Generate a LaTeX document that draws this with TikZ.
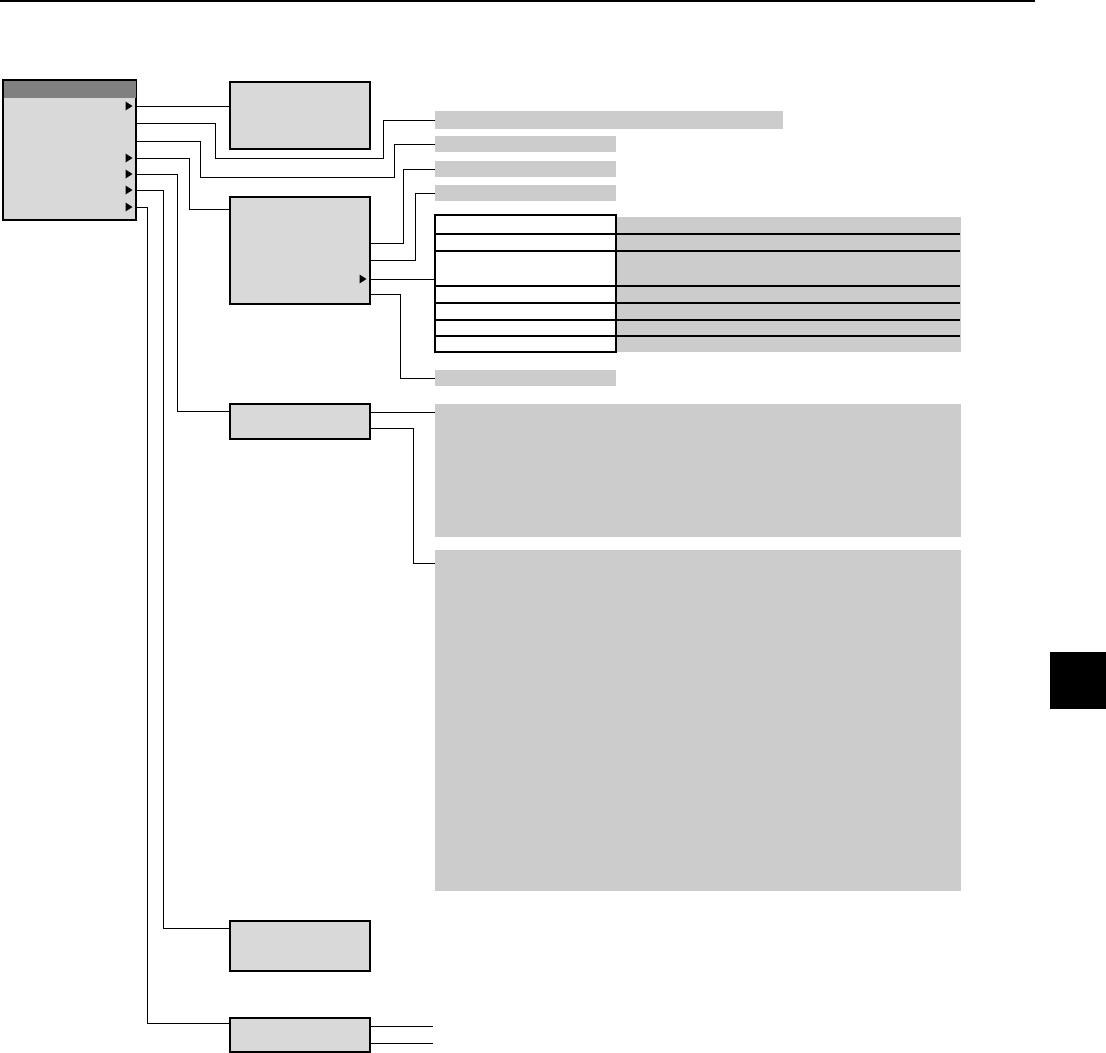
\documentclass[tikz,border=0pt]{standalone}
\usetikzlibrary{positioning,fit,calc}
\definecolor{cBox}{HTML}{D9D9D9}
\definecolor{cBar}{HTML}{CCCCCC}
\definecolor{cHead}{HTML}{808080}
\tikzset{
  wire/.style={line width=0.7pt,draw=black},
  menubox/.style={draw=black,fill=cBox,line width=0.9pt,inner sep=0pt},
  headbar/.style={fill=cHead,inner sep=0pt},
  subbox/.style={draw=black,fill=cBox,line width=0.9pt,inner sep=0pt},
  bar/.style={fill=cBar,inner sep=0pt},
  cell/.style={draw=black,fill=white,line width=0.9pt,inner sep=0pt},
  rowline/.style={line width=0.9pt,draw=black},
  tab/.style={fill=black,inner sep=0pt}
}
\newcommand\portmark[1]{\fill (#1) ++(-10.5,-4.5) -- ++(7,4.5) -- ++(-7,4.5) -- cycle;}

\begin{document}
\begin{tikzpicture}[x=0.025cm,y=-0.025cm]
  \useasboundingbox (0,0) rectangle (1106,1053);
  \draw[line width=1.4pt] (0,1) -- (1035,1);

  % Left: the menu and its outputs.
  \node[menubox,fit={(3,80)(136,220)}] (menu) {};
  \node[headbar,fit={(3.5,80.5)(135.5,98)}] (head) {};
  \coordinate (p1) at (136,106);
  \coordinate (p2) at (136,123);
  \coordinate (p3) at (136,141);
  \coordinate (p4) at (136,158);
  \coordinate (p5) at (136,174);
  \coordinate (p6) at (136,190);
  \coordinate (p7) at (136,207);
  \foreach \p in {p1,p4,p5,p6,p7} {\portmark{\p}}

  % Middle column.
  \node[subbox,fit={(230,82)(370,149)}] (boxA) {};
  \node[subbox,fit={(230,197)(370,304)}] (boxB) {};
  \node[subbox,fit={(230,404)(370,439)}] (boxC) {};
  \node[subbox,fit={(230,921)(370,971)}] (boxD) {};
  \node[subbox,fit={(230,1018)(370,1052)}] (boxE) {};

  % Right column.
  \node[bar,fit={(435,111)(783,129)}] (bar1) {};
  \node[bar,fit={(435,136)(616,152)}] (bar2) {};
  \node[bar,fit={(435,161)(616,177)}] (bar3) {};
  \node[bar,fit={(435,185)(616,201)}] (bar4) {};
  \node[bar,fit={(616,217)(961,352)}] (panel) {};
  \node[cell,fit={(435,215)(616,352)}] (table) {};
  \foreach \y in {234,251,286,303,320,336}
    \draw[rowline] (table.west |- 0,\y) -- (960,\y);
  \node[bar,fit={(435,370)(616,386)}] (bar5) {};
  \node[bar,fit={(435,404)(961,537)}] (big1) {};
  \node[bar,fit={(435,550)(961,891)}] (big2) {};

  % Menu to boxes and bars.
  \draw[wire] (p1) -- (p1 -| boxA.west);
  \draw[wire] (p2) -- ++(79,0) |- (383,158) |- (bar1.west);
  \draw[wire] (p3) -- ++(64,0) |- (394,177) |- (bar2.west);
  \draw[wire] (p4) -- ++(53,0) |- ($(boxB.north west)+(0,13)$);
  \draw[wire] (p5) -- ++(41,0) |- ($(boxC.north west)+(0,8)$);
  \draw[wire] (p6) -- ++(27,0) |- ($(boxD.north west)+(0,8)$);
  \draw[wire] (p7) -- ++(11,0) |- ($(boxE.north west)+(0,6)$);

  % Box B outputs.
  \coordinate (b1) at (370,243);
  \coordinate (b2) at (370,260);
  \coordinate (b3) at (370,279);
  \coordinate (b4) at (370,294);
  \portmark{b3}
  \draw[wire] (b1) -- ++(33,0) |- (bar3.west);
  \draw[wire] (b2) -- ++(45,0) |- (bar4.west);
  \draw[wire] (b3) -- (b3 -| table.west);
  \draw[wire] (b4) -- ++(30,0) |- (bar5.west);

  % Box C outputs.
  \coordinate (c1) at (370,412);
  \coordinate (c2) at (370,428);
  \draw[wire] (c1) -- (c1 -| big1.west);
  \draw[wire] (c2) -- ++(43,0) |- ($(big2.north west)+(0,14)$);

  % Box E outputs.
  \coordinate (e1) at (370,1026);
  \coordinate (e2) at (370,1043);
  \coordinate (e1end) at (433,1026);
  \coordinate (e2end) at (433,1043);
  \draw[wire] (e1) -- (e1end);
  \draw[wire] (e2) -- (e2end);

  \node[tab,fit={(1050,652)(1106,709)}] (thumb) {};
\end{tikzpicture}
\end{document}
